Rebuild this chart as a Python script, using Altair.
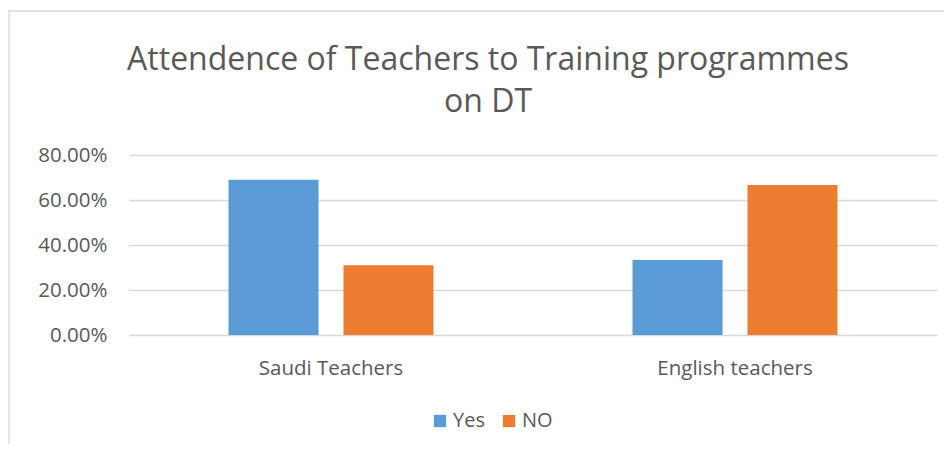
import altair as alt
import pandas as pd

categories = ["Saudi Teachers", "Saudi Teachers", "English teachers", "English teachers"]
series = ["Yes", "NO", "Yes", "NO"]
values = [0.6897, 0.3103, 0.3333, 0.6667]

df = pd.DataFrame({"group": categories, "answer": series, "value": values})

FONT = "Open Sans"
GREY = "#595959"

bars = alt.Chart(df).mark_bar().encode(
    x=alt.X("group:N", sort=["Saudi Teachers", "English teachers"],
            scale=alt.Scale(paddingInner=0.4926, paddingOuter=0.2463),
            axis=alt.Axis(title=None, labelAngle=0, domain=False, ticks=False,
                          labelFontSize=20.5, labelColor=GREY, labelFont=FONT, labelPadding=23)),
    xOffset=alt.XOffset("answer:N", sort=["Yes", "NO"],
                        scale=alt.Scale(paddingInner=0.217, paddingOuter=0)),
    y=alt.Y("value:Q", scale=alt.Scale(domain=[0, 0.8]),
            axis=alt.Axis(title=None, format=".2%", values=[0, 0.2, 0.4, 0.6, 0.8],
                          domain=False, ticks=False, labelFontSize=20.5, labelColor=GREY,
                          labelFont=FONT, labelPadding=22, gridColor="#d9d9d9", gridWidth=1.5)),
    color=alt.Color("answer:N", sort=["Yes", "NO"],
                    scale=alt.Scale(domain=["Yes", "NO"], range=["#5B9BD5", "#ED7D31"]),
                    legend=alt.Legend(title=None, orient="none", direction="horizontal",
                                      legendX=301, legendY=256, symbolType="square",
                                      symbolSize=150, symbolStrokeWidth=0, labelFontSize=20,
                                      labelColor=GREY, labelFont=FONT, columnPadding=14,
                                      labelOffset=3)),
)

border = alt.Chart(pd.DataFrame({"a": [0]})).mark_rect(
    fill="transparent", stroke="#d9d9d9", strokeWidth=1.5
).encode(x=alt.value(-120), x2=alt.value(840), y=alt.value(-144), y2=alt.value(330))

chart = alt.layer(border, bars).properties(
    width=808, height=180,
    title=alt.TitleParams(
        text=["Attendence of Teachers to Training programmes", "on DT"],
        fontSize=32, font=FONT, color=GREY, fontWeight="normal",
        anchor="middle", dx=-45, lineHeight=42, offset=-109,
    ),
    autosize=alt.AutoSizeParams(type="none"),
    padding={"left": 121, "top": 147, "right": 7, "bottom": 109},
).configure_view(stroke=None)

chart.save("out.html", embed_options={"renderer": "svg", "actions": False})
